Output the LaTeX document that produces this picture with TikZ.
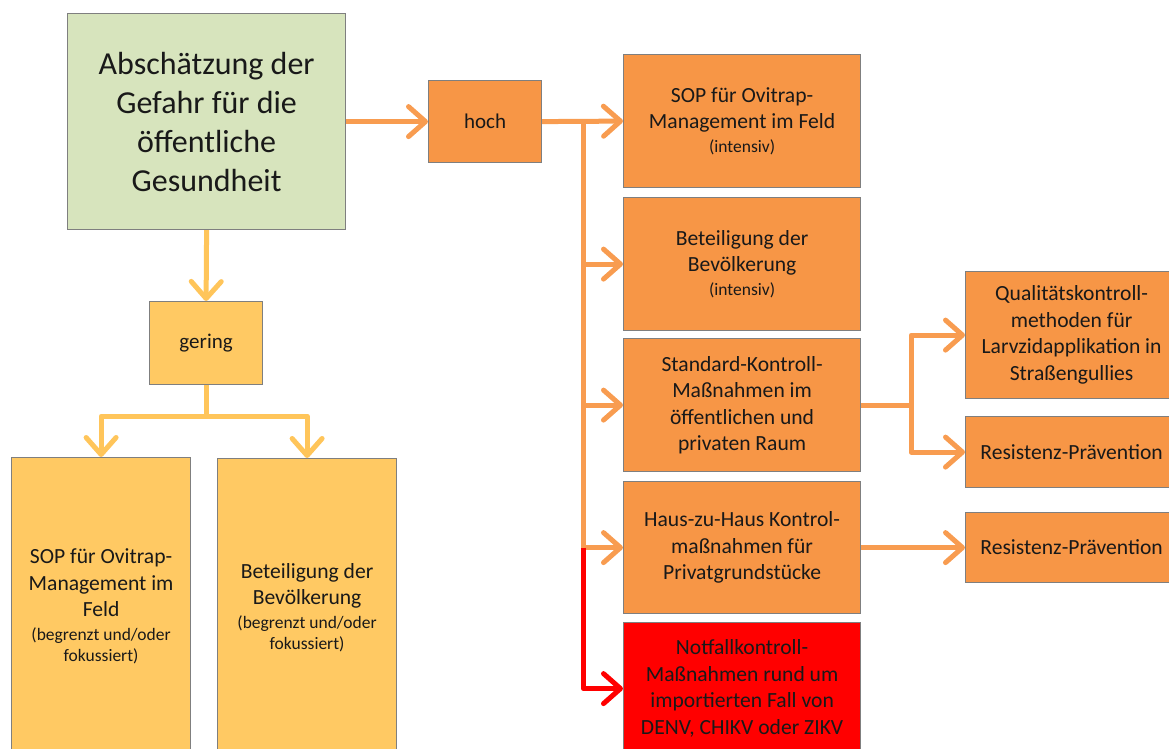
\documentclass[tikz,border=0pt]{standalone}
\usepackage{fontspec}
\setmainfont{Carlito}
\usetikzlibrary{arrows.meta}

\definecolor{gruen}{HTML}{D7E4BD}
\definecolor{orange}{HTML}{F79646}
\definecolor{hellorange}{HTML}{FFC963}
\definecolor{rot}{HTML}{FF0000}
\definecolor{rahmen}{HTML}{7F7F7F}
\definecolor{pfeilorange}{HTML}{F89C50}
\definecolor{pfeilgelb}{HTML}{FFC55A}

\newcommand{\klein}{\fontsize{17.5}{21}\selectfont}

\begin{document}
\begin{tikzpicture}[x=1pt, y=-1pt,
    font=\fontsize{21.6}{26.5}\selectfont,
    >={Straight Barb[length=17pt,width=30pt,line cap=round,line join=round]} % offene Pfeilspitzen
    ]
        \useasboundingbox (0,0) rectangle (1169,749);
        \clip (0,0) rectangle (1169,749);

        \tikzset{
            Kasten/.style={draw=rahmen, line width=1.2pt, align=center,
                inner sep=2pt, anchor=north west, text=black!90},
            Pfeil/.style={->, line width=5pt, draw=pfeilorange, line join=round}, % orange Pfeile
            GPfeil/.style={Pfeil, draw=pfeilgelb},   % Pfeile zu "gering"
            RPfeil/.style={Pfeil, draw=rot}          % Notfall
        }

        % Kästen
        \node[Kasten, fill=gruen, minimum width=278pt, minimum height=216pt,
              font=\fontsize{32}{39}\selectfont] (gefahr) at (67,13)
              {Abschätzung der\\Gefahr für die\\öffentliche\\Gesundheit};
        \node[Kasten, fill=orange, minimum width=113pt, minimum height=82pt,
              font=\fontsize{21}{26}\selectfont] (hoch) at (428,80) {hoch};
        \node[Kasten, fill=hellorange, minimum width=113pt, minimum height=83pt,
              font=\fontsize{21}{26}\selectfont] (gering) at (149,301) {gering};

        \node[Kasten, fill=hellorange, minimum width=179pt, minimum height=298pt] (sopl) at (11,457)
              {SOP für Ovitrap-\\Management im\\Feld\\[-3pt]{\klein(begrenzt und/oder}\\[-5pt]{\klein fokussiert)}};
        \node[Kasten, fill=hellorange, minimum width=179pt, minimum height=298pt] (betl) at (217,458)
              {Beteiligung der\\Bevölkerung\\[-3pt]{\klein(begrenzt und/oder}\\[-5pt]{\klein fokussiert)}};

        \node[Kasten, fill=orange, minimum width=237pt, minimum height=133pt] (sop) at (623,54)
              {SOP für Ovitrap-\\Management im Feld\\[-3pt]{\klein(intensiv)}};
        \node[Kasten, fill=orange, minimum width=237pt, minimum height=133pt] (bet) at (623,197)
              {Beteiligung der\\Bevölkerung\\[-3pt]{\klein(intensiv)}};
        \node[Kasten, fill=orange, minimum width=237pt, minimum height=133pt] (std) at (623,338)
              {Standard-Kontroll-\\Maßnahmen im\\öffentlichen und\\privaten Raum};
        \node[Kasten, fill=orange, minimum width=237pt, minimum height=132pt] (haus) at (623,481)
              {Haus-zu-Haus Kontrol-\\maßnahmen für\\Privatgrundstücke};
        \node[Kasten, fill=rot, minimum width=237pt, minimum height=132pt] (notfall) at (623,622)
              {Notfallkontroll-\\Maßnahmen rund um\\importierten Fall von\\DENV, CHIKV oder ZIKV};

        \node[Kasten, fill=orange, minimum width=212pt, minimum height=127pt] (qual) at (965,271)
              {Qualitätskontroll-\\methoden für\\Larvzidapplikation in\\Straßengullies};
        \node[Kasten, fill=orange, minimum width=212pt, minimum height=71pt] (res1) at (965,416)
              {Resistenz-Prävention};
        \node[Kasten, fill=orange, minimum width=212pt, minimum height=70pt] (res2) at (965,512)
              {Resistenz-Prävention};

        % Verzweigungspunkte
        \coordinate (knoten) at ([xshift=41pt]hoch.east);
        \coordinate (gabel) at ([yshift=-31pt]gering.south);
        \coordinate (gabel2) at ([xshift=50pt]std.east);

        % Pfeile
        \draw[Pfeil] (gefahr.east) -- (hoch.west);
        \draw[Pfeil] (hoch.east) -- (sop.west);
        \draw[Pfeil] (knoten) |- (bet.west);
        \draw[Pfeil] (knoten) |- (std.west);
        \draw[Pfeil] (knoten) |- (haus.west);
        \draw[RPfeil] (knoten |- haus.west) |- (notfall.west);

        \draw[GPfeil] (gefahr.south) -- (gering.north);
        \draw[GPfeil] (gering.south) -- (gabel) -| (sopl.north);
        \draw[GPfeil] (gabel) -| (betl.north);

        \draw[Pfeil] (std.east) -- (gabel2) |- (qual.west);
        \draw[Pfeil] (gabel2) |- (res1.west);
        \draw[Pfeil] (haus.east) -- (res2.west);
\end{tikzpicture}
\end{document}
